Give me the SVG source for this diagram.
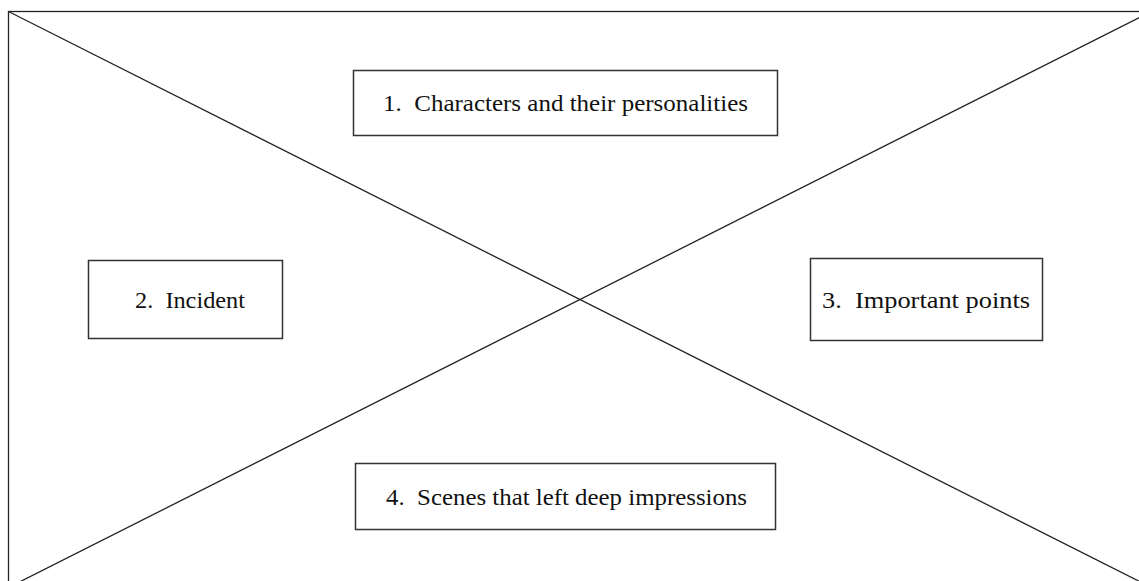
<svg xmlns="http://www.w3.org/2000/svg" width="1139" height="581" viewBox="0 0 1139 581">
<style>
.frame{fill:none;stroke:#222;stroke-width:1.3}
.diag{stroke:#222;stroke-width:1.3;fill:none}
.box{fill:#fff;stroke:#333;stroke-width:1.5}
.lbl{font-family:"Liberation Serif",serif;font-size:24px;fill:#111;text-anchor:middle;dominant-baseline:central}
</style>
<rect width="1139" height="581" fill="#fff"/>
<g id="connectors">
<rect class="frame" x="8.5" y="11.5" width="1143" height="576"/>
<line class="diag" x1="8.5" y1="11.5" x2="1151.5" y2="587.5"/>
<line class="diag" x1="8.5" y1="587.5" x2="1151.5" y2="11.5"/>
</g>
<g id="node1">
<rect class="box" x="353.5" y="70.5" width="424" height="65"/>
<text class="lbl" x="565.5" y="103" xml:space="preserve" textLength="365" lengthAdjust="spacingAndGlyphs">1.  Characters and their personalities</text>
</g>
<g id="node2">
<rect class="box" x="88.5" y="260.5" width="194" height="78"/>
<text class="lbl" x="190" y="300" xml:space="preserve" textLength="110" lengthAdjust="spacingAndGlyphs">2.  Incident</text>
</g>
<g id="node3">
<rect class="box" x="810.5" y="258.5" width="232" height="82"/>
<text class="lbl" x="926" y="300" xml:space="preserve" textLength="208" lengthAdjust="spacingAndGlyphs">3.  Important points</text>
</g>
<g id="node4">
<rect class="box" x="355.5" y="463.5" width="420" height="66"/>
<text class="lbl" x="566.5" y="497" xml:space="preserve" textLength="361" lengthAdjust="spacingAndGlyphs">4.  Scenes that left deep impressions</text>
</g>
</svg>
